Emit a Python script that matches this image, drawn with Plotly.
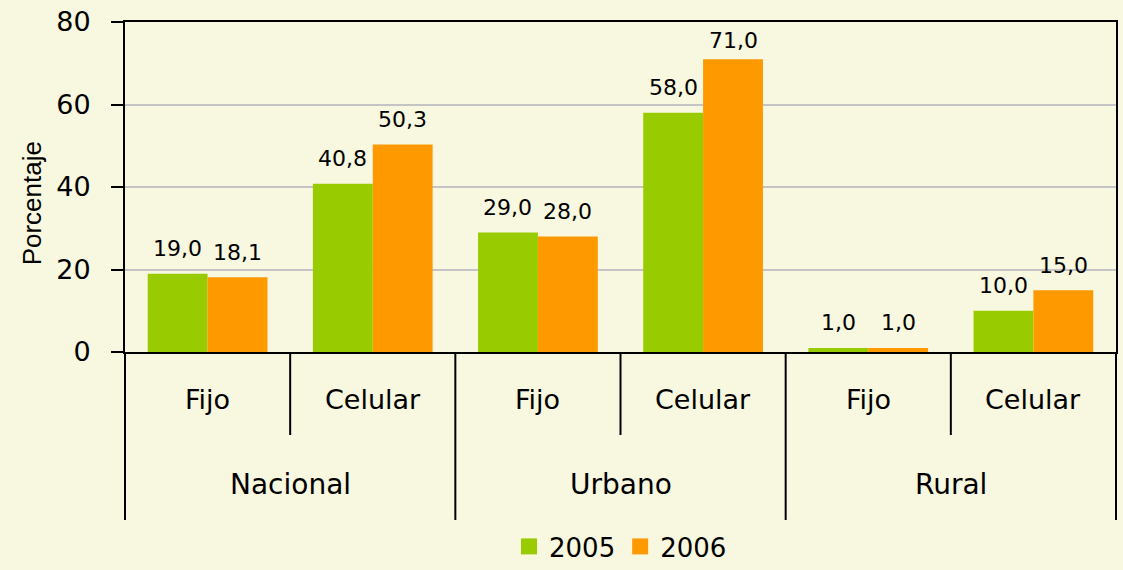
import plotly.graph_objects as go

groups = ["Nacional", "Urbano", "Rural"]
subcats = ["Fijo", "Celular"]
series_names = ["2005", "2006"]
values_2005 = [19.0, 40.8, 29.0, 58.0, 1.0, 10.0]
values_2006 = [18.1, 50.3, 28.0, 71.0, 1.0, 15.0]
y_ticks = [0, 20, 40, 60, 80]
colors = ["#99CC00", "#FF9900"]

BG = "#F8F7DF"
FONT = "DejaVu Sans, Verdana, sans-serif"

cats = [f"{g} {s}" for g in groups for s in subcats]
n = len(cats)
bargap = 0.275

fig = go.Figure()
for name, vals, col in zip(series_names, [values_2005, values_2006], colors):
    fig.add_trace(go.Bar(x=cats, y=vals, name=name, marker=dict(color=col, line=dict(width=0)),
                         hoverinfo="y", showlegend=False))
# legend entries with larger square symbols
for name, col in zip(series_names, colors):
    fig.add_trace(go.Scatter(x=[None], y=[None], mode="markers", name=name,
                             marker=dict(symbol="square", size=18, color=col), showlegend=True))

W, H = 1123, 570
ml, mr, mt, mb = 125, 5, 22, 218
plot_h = H - mt - mb
ymax = 80

annotations = []
w = 1 - bargap
for k, vals in enumerate([values_2005, values_2006]):
    off = (-w / 4) if k == 0 else (w / 4)
    for i, v in enumerate(vals):
        px_top = plot_h * v / ymax
        shift = min(25, plot_h - px_top - 18)
        annotations.append(dict(x=i + off, y=v, xref="x", yref="y", text=f"{v:.1f}".replace(".", ","),
                                showarrow=False, xanchor="center", yanchor="middle", yshift=shift,
                                font=dict(family=FONT, size=22, color="#000000")))

# category labels (inner level)
for i, c in enumerate(cats):
    annotations.append(dict(x=(i + 0.5) / n, y=-0.145, xref="paper", yref="paper",
                            text=subcats[i % 2], showarrow=False, xanchor="center", yanchor="middle",
                            font=dict(family=FONT, size=27, color="#000000")))
# group labels
for gi, g in enumerate(groups):
    annotations.append(dict(x=(gi * 2 + 1) / n, y=-0.403, xref="paper", yref="paper",
                            text=g, showarrow=False, xanchor="center", yanchor="middle",
                            font=dict(family=FONT, size=28, color="#000000")))

# y axis title
annotations.append(dict(x=-0.094, y=0.45, xref="paper", yref="paper", text="Porcentaje",
                        textangle=-90, showarrow=False, xanchor="center", yanchor="middle",
                        font=dict(family="Liberation Sans Narrow, Arial Narrow, sans-serif", size=26,
                                  color="#000000")))

shapes = []
inner_bottom = -0.2515
outer_bottom = -0.509
for b in range(n + 1):
    xb = b / n
    y1 = outer_bottom if b % 2 == 0 else inner_bottom
    shapes.append(dict(type="line", xref="paper", yref="paper", x0=xb, x1=xb, y0=0, y1=y1,
                       line=dict(color="#000000", width=2)))

fig.update_layout(
    width=W, height=H,
    margin=dict(l=ml, r=mr, t=mt, b=mb, pad=0),
    paper_bgcolor=BG, plot_bgcolor=BG,
    barmode="group", bargap=bargap, bargroupgap=0,
    separators=",.",
    showlegend=True,
    legend=dict(orientation="h", x=0.5, xanchor="center", xref="paper",
                y=0, yanchor="bottom", yref="container",
                font=dict(family=FONT, size=26, color="#000000"), bgcolor="rgba(0,0,0,0)",
                itemwidth=30, itemsizing="trace"),
    annotations=annotations,
    shapes=shapes,
    xaxis=dict(type="category", range=[-0.5, n - 0.5], showticklabels=False, ticks="",
               showline=True, linecolor="#000000", linewidth=2, mirror=True, showgrid=False,
               fixedrange=True),
    yaxis=dict(range=[0, ymax], tickvals=y_ticks, ticks="outside", ticklen=12, tickwidth=2,
               tickcolor="#000000", showline=True, linecolor="#000000", linewidth=2, mirror=True,
               showgrid=True, gridcolor="#C4C4C4", gridwidth=2, zeroline=False,
               tickfont=dict(family=FONT, size=27, color="#000000"), ticklabelstandoff=15,
               fixedrange=True),
)

post = (
    "document.body.style.margin='0';document.body.style.padding='0';"
    "document.body.style.overflow='hidden';"
)
fig.write_html("out.html", config={"displayModeBar": False}, post_script=post)
